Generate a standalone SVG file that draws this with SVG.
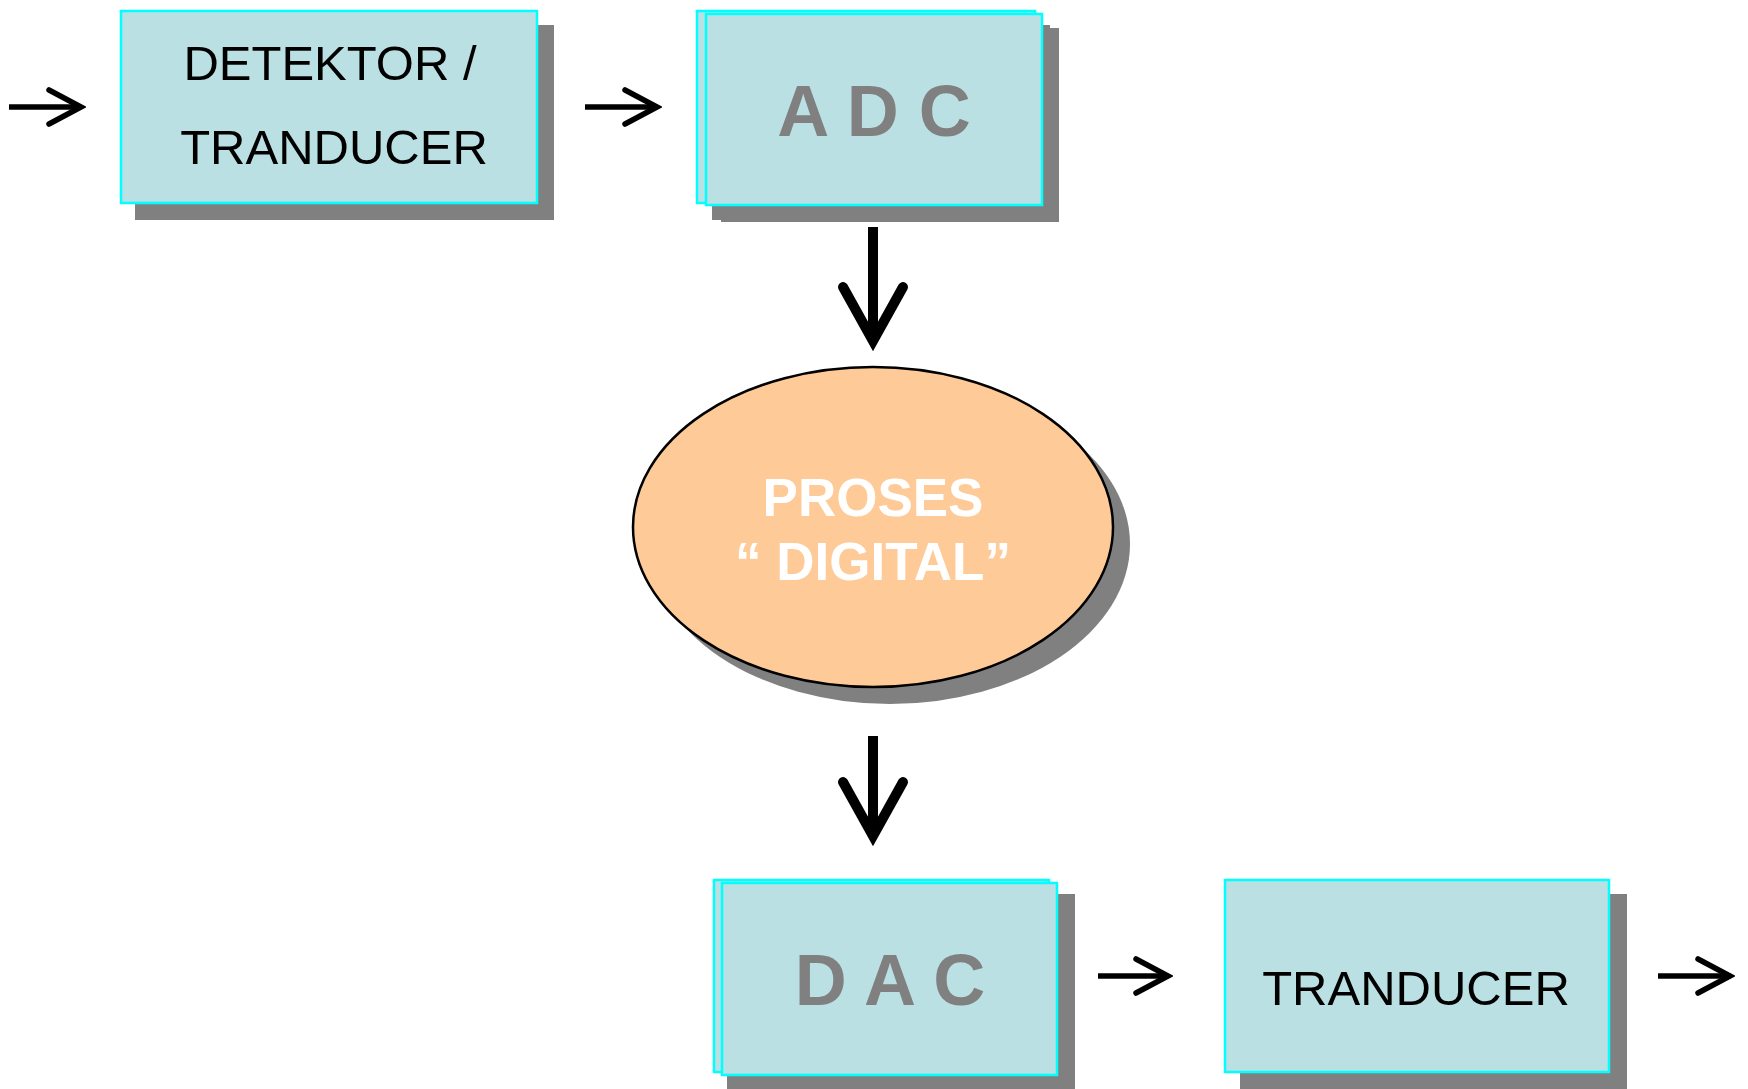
<svg xmlns="http://www.w3.org/2000/svg" width="1748" height="1089" viewBox="0 0 1748 1089">
<style>
.box{fill:#BAE0E3;stroke:#00FFFF;stroke-width:2.5}
.shadow{fill:#808080}
.lbl{font-family:"Liberation Sans",Arial,sans-serif;font-size:49px;fill:#000;text-anchor:middle}
.big{font-family:"Liberation Sans",Arial,sans-serif;font-size:72px;font-weight:bold;fill:#808080;text-anchor:middle}
.proc{font-family:"Liberation Sans",Arial,sans-serif;font-size:53px;font-weight:bold;fill:#FFFFFF;text-anchor:middle}
.thin{stroke:#000;stroke-width:5.5;fill:none}
.thick{stroke:#000;stroke-width:10;fill:none}
</style>
<defs>
<marker id="headS" markerUnits="userSpaceOnUse" viewBox="-45 -25 50 50" markerWidth="50" markerHeight="50" refX="0" refY="0" orient="auto">
<path d="M-32,-17 L0,0 L-32,17" fill="none" stroke="#000" stroke-width="5.5" stroke-linecap="round" stroke-linejoin="miter"/>
</marker>
<marker id="headL" markerUnits="userSpaceOnUse" viewBox="-75 -40 90 80" markerWidth="90" markerHeight="80" refX="0" refY="0" orient="auto">
<path d="M-54,-30 L0,0 L-54,30" fill="none" stroke="#000" stroke-width="10" stroke-linecap="round" stroke-linejoin="miter" stroke-miterlimit="10"/>
</marker>
</defs>
<rect width="1748" height="1089" fill="#FFFFFF"/>
<g id="connectors">
<line class="thin" x1="9" y1="107" x2="81" y2="107" marker-end="url(#headS)"/>
<line class="thin" x1="585" y1="107" x2="657" y2="107" marker-end="url(#headS)"/>
<line class="thick" x1="873" y1="227" x2="873" y2="341" marker-end="url(#headL)"/>
<line class="thick" x1="873" y1="736" x2="873" y2="836" marker-end="url(#headL)"/>
<line class="thin" x1="1098" y1="976" x2="1168" y2="976" marker-end="url(#headS)"/>
<line class="thin" x1="1658" y1="976" x2="1730" y2="976" marker-end="url(#headS)"/>
</g>
<g id="detektor">
<rect class="shadow" x="135" y="25" width="419" height="195"/>
<rect class="box" x="121" y="11" width="416" height="192"/>
<text class="lbl" x="330" y="80">DETEKTOR /</text>
<text class="lbl" x="334" y="164">TRANDUCER</text>
</g>
<g id="adc">
<rect class="shadow" x="712" y="25" width="338" height="195"/>
<rect class="shadow" x="721" y="28" width="338" height="194"/>
<rect class="box" x="697" y="11" width="338" height="192"/>
<rect class="box" x="706" y="14" width="336" height="191"/>
<text class="big" x="874" y="136">A D C</text>
</g>
<g id="proses">
<ellipse class="shadow" cx="890" cy="544" rx="240" ry="160"/>
<ellipse cx="873" cy="527" rx="240" ry="160" fill="#FECB98" stroke="#000" stroke-width="2.5"/>
<text class="proc" x="873" y="516">PROSES</text>
<text class="proc" x="873" y="580">“ DIGITAL”</text>
</g>
<g id="dac">
<rect class="shadow" x="727" y="894" width="348" height="200"/>
<rect class="box" x="714" y="880" width="335" height="192"/>
<rect class="box" x="722" y="883" width="335" height="192"/>
<text class="big" x="890" y="1005">D A C</text>
</g>
<g id="tranducer">
<rect class="shadow" x="1240" y="894" width="387" height="200"/>
<rect class="box" x="1225" y="880" width="384" height="192"/>
<text class="lbl" x="1416" y="1005">TRANDUCER</text>
</g>
</svg>
